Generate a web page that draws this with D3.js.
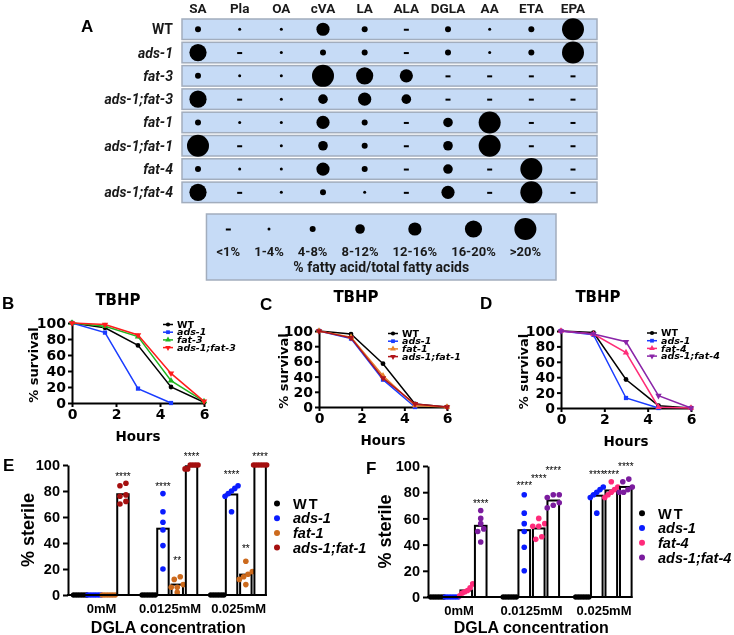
<!DOCTYPE html>
<html>
<head>
<meta charset="utf-8">
<script src="https://cdn.jsdelivr.net/npm/d3@7/dist/d3.min.js"></script>
<style>
  body { margin: 0; background: #fff; }
  svg { display: block; will-change: transform; }
</style>
</head>
<body>
<div id="chart"></div>
<script>
// ---- panel A: fatty acid composition (bin index per strain / fatty acid)
const faCols = ["SA", "Pla", "OA", "cVA", "LA", "ALA", "DGLA", "AA", "ETA", "EPA"];
const strainRows = ["WT", "ads-1", "fat-3", "ads-1;fat-3", "fat-1", "ads-1;fat-1", "fat-4", "ads-1;fat-4"];
const pctBins = ["<1%", "1-4%", "4-8%", "8-12%", "12-16%", "16-20%", ">20%"];
const faLevel = [
  [2, 1, 1, 4, 2, 0, 2, 1, 2, 6],
  [5, 0, 1, 2, 2, 0, 2, 1, 2, 6],
  [2, 1, 1, 6, 5, 4, 0, 0, 0, 0],
  [5, 0, 1, 3, 4, 3, 0, 0, 0, 0],
  [2, 1, 1, 4, 2, 0, 3, 6, 0, 0],
  [6, 0, 1, 3, 2, 0, 3, 6, 0, 0],
  [2, 1, 1, 4, 2, 0, 3, 0, 6, 0],
  [5, 0, 1, 2, 1, 0, 4, 0, 6, 0]
];

// ---- panels B-D: TBHP survival (%)
const hours = [0, 1.5, 3, 4.5, 6];
const survB_names = ["WT", "ads-1", "fat-3", "ads-1;fat-3"];
const survB_vals = [[100, 94, 72, 20, 1], [100, 88, 18, 0], [100, 96, 83, 28, 2], [100, 98, 85, 37, 2]];
const survC_names = ["WT", "ads-1", "fat-1", "ads-1;fat-1"];
const survC_vals = [[100, 96, 57, 4, 0], [100, 90, 36, 0], [100, 92, 41, 2, 0], [100, 91, 38, 4, 0]];
const survD_names = ["WT", "ads-1", "fat-4", "ads-1;fat-4"];
const survD_vals = [[100, 98, 37, 3, 0], [100, 95, 13, 0], [100, 96, 72, 1, 0], [100, 96, 86, 16, 0]];

// ---- panels E-F: % sterile on DGLA, 6 replicates per strain [dose][strain]
const doses = ["0mM", "0.0125mM", "0.025mM"];
const sterE_names = ["WT", "ads-1", "fat-1", "ads-1;fat-1"];
const sterE_pts = [
  [[0, 0, 0, 0, 0, 0], [0, 0, 0, 0, 0, 0], [0, 0, 0, 0, 0, 0], [86, 84, 77, 76, 72, 70]],
  [[0, 0, 0, 0, 0, 0], [78, 64, 56, 50, 38, 20], [14, 12, 8, 6, 6, 2], [100, 100, 100, 100, 97, 97]],
  [[0, 0, 0, 0, 0, 0], [84, 82, 80, 78, 76, 64], [26, 18, 16, 14, 12, 8], [100, 100, 100, 100, 100, 100]]
];
const sterE_stars = [["", "", "", "****"], ["", "****", "**", "****"], ["", "****", "**", "****"]];
const sterE_starAt = [[0, 0, 0, 93], [0, 85, 28, 108], [0, 94, 37, 108]];

const sterF_names = ["WT", "ads-1", "fat-4", "ads-1;fat-4"];
const sterF_pts = [
  [[0, 0, 0, 0, 0, 0], [0, 0, 0, 0, 0, 0], [10, 7, 5, 4, 3, 1], [66, 60, 56, 52, 50, 42]],
  [[0, 0, 0, 0, 0, 0], [78, 64, 56, 50, 38, 20], [60, 56, 54, 54, 46, 44], [78, 78, 76, 72, 70, 68]],
  [[0, 0, 0, 0, 0, 0], [84, 82, 80, 78, 76, 64], [88, 84, 82, 80, 78, 76], [90, 88, 84, 82, 80, 80]]
];
const sterF_stars = [["", "", "", "****"], ["", "****", "****", "****"], ["", "****", "****", "****"]];
const sterF_starAt = [[0, 0, 0, 73], [0, 87, 92, 98], [0, 95, 95, 101]];

const fontA = "Roboto, 'Noto Sans', sans-serif";
const fontB = "'DejaVu Sans', sans-serif";
const fontE = "'Liberation Sans', Arial, sans-serif";

const svg = d3.select("#chart").append("svg")
  .attr("width", 734).attr("height", 635);

function letter(t, x, y) {
  svg.append("text").attr("x", x).attr("y", y).text(t)
    .attr("font-family", fontE).attr("font-weight", "bold")
    .attr("font-size", 17).attr("fill", "#000");
}

// ================= panel A =================
const colX = d3.scalePoint().domain(faCols).range([198, 573]);
const rowY = d3.scaleBand().domain(strainRows).range([17.6, 204]).paddingInner(0.12).paddingOuter(0.06);
const binR = d3.scaleOrdinal().domain(d3.range(pctBins.length)).range([0, 1.5, 3, 4.8, 6.6, 8.6, 11]);
const boxFill = "#c6dbf6", boxStroke = "#a2adbd";

letter("A", 81, 32);

svg.append("g").selectAll("text").data(faCols).join("text")
  .attr("x", d => colX(d)).attr("y", 13)
  .attr("text-anchor", "middle")
  .attr("font-family", fontA).attr("font-weight", "bold").attr("font-size", 13.5)
  .attr("fill", "#1a1a1a").text(d => d);

const rows = svg.append("g").selectAll("g").data(strainRows).join("g")
  .attr("transform", d => `translate(0,${rowY(d)})`);
rows.append("rect").attr("x", 182).attr("width", 415).attr("height", rowY.bandwidth())
  .attr("fill", boxFill).attr("stroke", boxStroke).attr("stroke-width", 1.5);
rows.append("text").attr("x", 173).attr("y", rowY.bandwidth() / 2).attr("dy", "0.36em")
  .attr("text-anchor", "end")
  .attr("font-family", fontA).attr("font-weight", "bold").attr("font-size", 14)
  .attr("font-style", d => d === "WT" ? "normal" : "italic")
  .attr("fill", "#1a1a1a").text(d => d);

function faMark(sel, level, cx, cy) {
  if (level === 0) {
    sel.append("rect").attr("x", cx - 2.5).attr("y", cy - 0.5).attr("width", 5).attr("height", 2).attr("fill", "#000");
  } else {
    sel.append("circle").attr("cx", cx).attr("cy", cy).attr("r", binR(level)).attr("fill", "#000");
  }
}
strainRows.forEach((s, i) => {
  faCols.forEach((c, j) => {
    faMark(svg, faLevel[i][j], colX(c), rowY(s) + rowY.bandwidth() / 2);
  });
});

// legend box
const leg = svg.append("g");
const legRect = leg.append("rect").attr("y", 214).attr("height", 66)
  .attr("fill", boxFill).attr("stroke", boxStroke).attr("stroke-width", 1.5);
const legLabels = leg.selectAll("text.bin").data(pctBins).join("text").attr("class", "bin")
  .attr("y", 256).attr("text-anchor", "middle")
  .attr("font-family", fontA).attr("font-weight", "bold").attr("font-size", 13)
  .attr("fill", "#1a1a1a").text(d => d);
const widths = [];
legLabels.each(function () { widths.push(this.getComputedTextLength()); });
const gap = 14, legEnd = 541;
const totalW = d3.sum(widths) + gap * (widths.length - 1);
let cursor = legEnd - totalW;
const startX = cursor;
const centers = widths.map(w => { const c = cursor + w / 2; cursor += w + gap; return c; });
legLabels.attr("x", (d, i) => centers[i]);
const boxL = startX - 10, boxR = 556;
legRect.attr("x", boxL).attr("width", boxR - boxL);
pctBins.forEach((b, i) => faMark(leg, i, centers[i], 229));
leg.append("text").attr("x", (boxL + boxR) / 2).attr("y", 272)
  .attr("text-anchor", "middle")
  .attr("font-family", fontA).attr("font-weight", "bold").attr("font-size", 14)
  .attr("fill", "#1a1a1a").text("% fatty acid/total fatty acids");

// ================= panels B-D =================
const shapes = [d3.symbolCircle, d3.symbolSquare, d3.symbolTriangle, d3.symbolTriangle];
const shapeRot = [0, 0, 0, 180];

function survival(cfg) {
  const g = svg.append("g");
  const x = d3.scaleLinear().domain([0, 6]).range([cfg.left, cfg.right]);
  const y = d3.scaleLinear().domain([0, 100]).range([cfg.bottom, cfg.top]);

  const ya = g.append("g").attr("transform", `translate(${cfg.left},0)`)
    .call(d3.axisLeft(y).tickValues(d3.range(0, 101, 20)).tickFormat(d3.format("d"))
      .tickSize(4).tickSizeOuter(0).tickPadding(2));
  const xa = g.append("g").attr("transform", `translate(0,${cfg.bottom})`)
    .call(d3.axisBottom(x).tickValues([0, 2, 4, 6]).tickFormat(d3.format("d"))
      .tickSize(4).tickSizeOuter(0).tickPadding(2));
  [ya, xa].forEach(a => {
    a.selectAll("path, line").attr("stroke", "#000").attr("stroke-width", 2);
    a.selectAll("text").attr("font-family", fontB).attr("font-weight", "bold")
      .attr("font-size", 14).attr("fill", "#000");
  });

  const line = d3.line().x((d, i) => x(hours[i])).y(d => y(d));
  cfg.names.forEach((n, k) => {
    const vals = cfg.vals[k];
    g.append("path").datum(vals).attr("d", line)
      .attr("fill", "none").attr("stroke", cfg.colors[k]).attr("stroke-width", 1.5);
    g.selectAll(null).data(vals).join("path")
      .attr("d", d3.symbol().type(shapes[k]).size(18))
      .attr("transform", (d, i) => `translate(${x(hours[i])},${y(d)}) rotate(${shapeRot[k]})`)
      .attr("fill", cfg.colors[k]);
  });

  // legend
  cfg.names.forEach((n, k) => {
    const ly = cfg.legY + k * 7.7;
    g.append("line").attr("x1", cfg.legX).attr("x2", cfg.legX + 10).attr("y1", ly).attr("y2", ly)
      .attr("stroke", cfg.colors[k]).attr("stroke-width", 1.5);
    g.append("path").attr("d", d3.symbol().type(shapes[k]).size(14))
      .attr("transform", `translate(${cfg.legX + 5},${ly}) rotate(${shapeRot[k]})`)
      .attr("fill", cfg.colors[k]);
    g.append("text").attr("x", cfg.legX + 14).attr("y", ly).attr("dy", "0.34em")
      .attr("font-family", fontB).attr("font-weight", "bold").attr("font-size", 9.5)
      .attr("font-style", n === "WT" ? "normal" : "italic")
      .attr("fill", "#000").text(n);
  });

  g.append("text").attr("x", cfg.titleX).attr("y", cfg.titleY).attr("text-anchor", "middle")
    .attr("font-family", fontB).attr("font-weight", "bold").attr("font-size", 15).text("TBHP");
  g.append("text").attr("x", (cfg.left + cfg.right) / 2).attr("y", cfg.bottom + 38)
    .attr("text-anchor", "middle")
    .attr("font-family", fontB).attr("font-weight", "bold").attr("font-size", 13.5).text("Hours");
  g.append("text")
    .attr("transform", `translate(${cfg.yTitleX},${(cfg.top + cfg.bottom) / 2 + 2}) rotate(-90)`)
    .attr("text-anchor", "middle").attr("dy", "0.36em")
    .attr("font-family", fontB).attr("font-weight", "bold").attr("font-size", 13).text("% survival");
  letter(cfg.letter, cfg.letterX, cfg.letterY);
}

survival({
  names: survB_names, vals: survB_vals,
  colors: ["#000000", "#1a3cff", "#1fb51f", "#ff1c1c"],
  left: 72, right: 204, top: 323, bottom: 403,
  legX: 163, legY: 324.5, titleX: 118, titleY: 305, yTitleX: 33,
  letter: "B", letterX: 2, letterY: 309
});
survival({
  names: survC_names, vals: survC_vals,
  colors: ["#000000", "#1a3cff", "#e8822a", "#b0141a"],
  left: 319, right: 447, top: 331, bottom: 407,
  legX: 388, legY: 333.5, titleX: 356, titleY: 302, yTitleX: 283,
  letter: "C", letterX: 260, letterY: 310
});
survival({
  names: survD_names, vals: survD_vals,
  colors: ["#000000", "#1a3cff", "#ff2d78", "#8a25a8"],
  left: 561, right: 691, top: 331, bottom: 408,
  legX: 647, legY: 333, titleX: 598, titleY: 302, yTitleX: 523,
  letter: "D", letterX: 480, letterY: 309
});

// ================= panels E-F =================
// spread overlapping replicate dots sideways, like a scatter dot plot
function spread(vals) {
  const idx = vals.map((v, i) => i).sort((a, b) => vals[a] - vals[b]);
  const offs = vals.map(() => 0);
  let cl = [idx[0]];
  const flush = () => {
    const step = cl.length > 1 ? Math.min(6, 13 / (cl.length - 1)) : 0;
    cl.forEach((k, j) => { offs[k] = (j - (cl.length - 1) / 2) * step; });
  };
  for (let i = 1; i < idx.length; i++) {
    if (vals[idx[i]] - vals[cl[cl.length - 1]] <= 3) cl.push(idx[i]);
    else { flush(); cl = [idx[i]]; }
  }
  flush();
  return offs;
}

function sterile(cfg) {
  const g = svg.append("g");
  const y = d3.scaleLinear().domain([0, 100]).range([cfg.bottom, cfg.top]);
  const xg = d3.scaleBand().domain(doses).range([cfg.bandL, cfg.bandR]).paddingInner(cfg.padIn).paddingOuter(0);
  const xs = d3.scaleBand().domain(cfg.names).range([0, xg.bandwidth()]).padding(0.2);

  const ya = g.append("g").attr("transform", `translate(${cfg.axisX},0)`)
    .call(d3.axisLeft(y).tickValues(d3.range(0, 101, 20)).tickSize(5).tickSizeOuter(0).tickPadding(3));
  ya.selectAll("path, line").attr("stroke", "#000").attr("stroke-width", 2);
  ya.selectAll("text").attr("font-family", fontE).attr("font-weight", "bold")
    .attr("font-size", 14.5).attr("fill", "#000");

  const xa = g.append("g").attr("transform", `translate(0,${cfg.bottom})`)
    .call(d3.axisBottom(xg).tickSize(0).tickPadding(9));
  xa.select(".domain").remove();
  xa.selectAll("text").attr("font-family", fontE).attr("font-weight", "bold")
    .attr("font-size", 13).attr("fill", "#000");

  doses.forEach((dose, di) => {
    cfg.names.forEach((n, si) => {
      const pts = cfg.pts[di][si];
      const cx = xg(dose) + xs(n) + xs.bandwidth() / 2;
      const m = d3.mean(pts);
      if (m > 0) {
        g.append("rect").attr("x", cx - xs.bandwidth() / 2).attr("y", y(m))
          .attr("width", xs.bandwidth()).attr("height", y(0) - y(m))
          .attr("fill", "#fff").attr("stroke", "#000").attr("stroke-width", 2);
      }
      const offs = spread(pts);
      g.selectAll(null).data(pts).join("circle")
        .attr("cx", (d, i) => cx + offs[i]).attr("cy", d => y(d))
        .attr("r", 2.8).attr("fill", cfg.colors[si]);
      const st = cfg.stars[di][si];
      if (st) {
        g.append("text").attr("x", cx).attr("y", y(cfg.starAt[di][si]) + 5.5)
          .attr("text-anchor", "middle")
          .attr("font-family", fontE).attr("font-size", 10).attr("fill", "#000").text(st);
      }
    });
  });

  g.append("line").attr("x1", cfg.axisX - 1).attr("x2", cfg.bandR - 2)
    .attr("y1", cfg.bottom).attr("y2", cfg.bottom).attr("stroke", "#000").attr("stroke-width", 2);

  // legend
  cfg.names.forEach((n, k) => {
    const ly = cfg.legY + k * 14.7;
    g.append("circle").attr("cx", cfg.legX).attr("cy", ly).attr("r", 3).attr("fill", cfg.colors[k]);
    g.append("text").attr("x", cfg.legX + 16).attr("y", ly).attr("dy", "0.36em")
      .attr("font-family", fontE).attr("font-weight", "bold").attr("font-size", 14.5)
      .attr("font-style", n === "WT" ? "normal" : "italic")
      .attr("letter-spacing", n === "WT" ? 2 : 0)
      .attr("fill", "#000").text(n);
  });

  g.append("text")
    .attr("transform", `translate(${cfg.yTitleX},${(cfg.top + cfg.bottom) / 2}) rotate(-90)`)
    .attr("text-anchor", "middle").attr("dy", "0.36em")
    .attr("font-family", fontE).attr("font-weight", "bold").attr("font-size", 18).text("% sterile");
  g.append("text").attr("x", (cfg.axisX + cfg.bandR) / 2).attr("y", 633)
    .attr("text-anchor", "middle")
    .attr("font-family", fontE).attr("font-weight", "bold").attr("font-size", 16).text("DGLA concentration");
  letter(cfg.letter, cfg.letterX, cfg.letterY);
}

sterile({
  names: sterE_names, pts: sterE_pts, stars: sterE_stars, starAt: sterE_starAt,
  colors: ["#000000", "#0a1cff", "#cc6a1d", "#a50f0f"],
  axisX: 68, bandL: 71.5, bandR: 268.7, padIn: 0.125, top: 465, bottom: 595,
  legX: 277, legY: 503.5, yTitleX: 28, letter: "E", letterX: 3, letterY: 471
});
sterile({
  names: sterF_names, pts: sterF_pts, stars: sterF_stars, starAt: sterF_starAt,
  colors: ["#000000", "#0a1cff", "#ff2a7a", "#7b1c9e"],
  axisX: 428, bandL: 428.5, bandR: 634.5, padIn: 0.16, top: 466, bottom: 597,
  legX: 642, legY: 513.3, yTitleX: 385, letter: "F", letterX: 366, letterY: 474
});
</script>
</body>
</html>
